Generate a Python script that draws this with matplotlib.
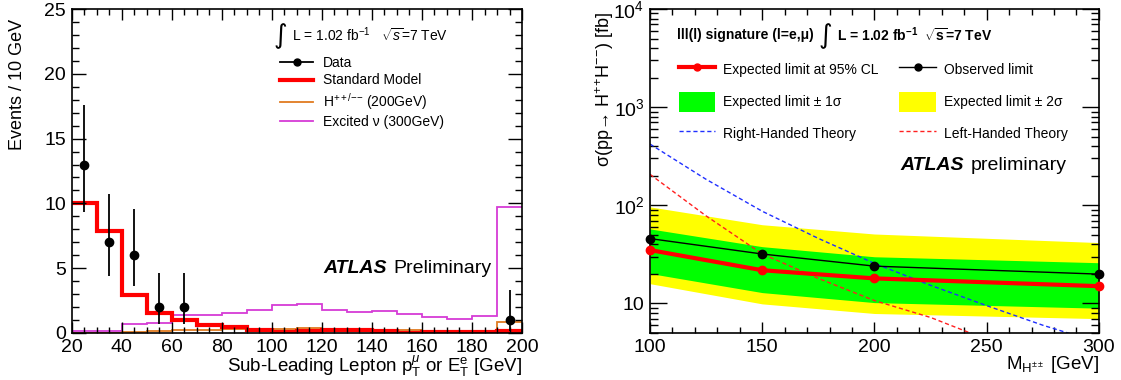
import numpy as np
import matplotlib
matplotlib.use("Agg")
import matplotlib.pyplot as plt
from matplotlib.lines import Line2D
from matplotlib.patches import Patch
from matplotlib.ticker import MultipleLocator, LogLocator, FuncFormatter, NullFormatter

plt.rcParams['font.family'] = ['Liberation Sans', 'DejaVu Sans']
plt.rcParams['mathtext.fontset'] = 'custom'
plt.rcParams['mathtext.rm'] = 'Liberation Sans'
plt.rcParams['mathtext.it'] = 'Liberation Sans:italic'
plt.rcParams['mathtext.bf'] = 'Liberation Sans:bold'

# left panel: sub-leading lepton pT, 10 GeV bins
bin_edges = np.arange(20, 201, 10)
sm = [10.05, 7.85, 2.93, 1.58, 0.98, 0.65, 0.47, 0.26, 0.08,
      0.13, 0.2, 0.2, 0.13, 0.03, 0.08, 0.1, 0.05, 0.13]
hpp_200 = [0.03, 0.03, 0.08, 0.13, 0.2, 0.26, 0.3, 0.33, 0.3,
           0.36, 0.33, 0.28, 0.23, 0.2, 0.18, 0.15, 0.13, 0.85]
exc_nu_300 = [0.13, 0.13, 0.67, 0.78, 1.4, 1.37, 1.58, 1.81, 2.15,
              2.25, 1.74, 1.6, 1.68, 1.5, 1.27, 1.06, 1.3, 9.7]
data_x = [25, 35, 45, 55, 65, 195]
data_y = [13, 7, 6, 2, 2, 1]
data_lo = [9.35, 4.38, 3.6, 0.72, 0.72, 0.13]
data_hi = [17.58, 10.7, 9.53, 4.63, 4.63, 3.3]

# right panel: cross-section limits
mass = [100, 150, 200, 300]
expected = [35, 21.8, 18, 15]
observed = [45.8, 31.9, 24, 19.9]
band1_lo = [20.2, 12.9, 10.2, 8.95]
band1_hi = [57.5, 37.9, 29.9, 26]
band2_lo = [15.9, 9.9, 7.9, 7.0]
band2_hi = [96.4, 63.4, 51, 41.7]
theory_mass = [100, 125, 150, 175, 200, 225, 250, 275, 300]
rh_theory = [421, 184, 87, 46, 25.6, 15.3, 9.5, 6.0, 4.0]
lh_theory = [207, 78, 32, 18, 10.7, 7.2, 4.3, 2.8, 2.0]

fig = plt.figure(figsize=(11.21, 3.8), dpi=100)
ax1 = fig.add_axes([0.0638, 0.1237, 0.4019, 0.8526])
ax2 = fig.add_axes([0.5798, 0.1237, 0.4005, 0.8526])

for ax in (ax1, ax2):
    for s in ax.spines.values():
        s.set_linewidth(1.2)
    ax.tick_params(which='both', direction='in', top=True, right=True,
                   labelsize=14, width=1, pad=4)

# ---- left ----
ax1.stairs(exc_nu_300, bin_edges, baseline=None, color='#d63cd6', lw=1.3)
ax1.stairs(hpp_200, bin_edges, baseline=None, color='#e07b20', lw=1.3)
ax1.stairs(sm, bin_edges, baseline=None, color='#ff0000', lw=3)
yerr = [np.array(data_y) - np.array(data_lo), np.array(data_hi) - np.array(data_y)]
ax1.errorbar(data_x, data_y, yerr=yerr, fmt='o', color='black', ms=6,
             elinewidth=1.3, capsize=0, zorder=5, clip_on=False)

ax1.set_xlim(20, 200)
ax1.set_ylim(0, 25)
ax1.xaxis.set_major_locator(MultipleLocator(20))
ax1.xaxis.set_minor_locator(MultipleLocator(5))
ax1.yaxis.set_major_locator(MultipleLocator(5))
ax1.yaxis.set_minor_locator(MultipleLocator(1))
ax1.tick_params(axis='x', which='major', length=8)
ax1.tick_params(axis='x', which='minor', length=4)
ax1.tick_params(axis='y', which='major', length=10)
ax1.tick_params(axis='y', which='minor', length=5)

ax1.set_xlabel(r'Sub-Leading Lepton p$_\mathrm{T}^{\mu}$ or E$_\mathrm{T}^\mathrm{e}$ [GeV]',
               fontsize=13.5, loc='right')
ax1.xaxis.set_label_coords(1.0, -0.065)
ax1.set_ylabel('Events / 10 GeV', fontsize=13, loc='top')
ax1.yaxis.set_label_coords(-0.101, 0.97)

ax1.text(0.463, 0.915, '∫', transform=ax1.transAxes, fontsize=19,
         family='DejaVu Sans', ha='center', va='center')
ax1.text(0.4895, 0.92, r'L = 1.02 fb$^{-1}$   $\sqrt{s}$=7 TeV', transform=ax1.transAxes,
         fontsize=10, ha='left', va='center')

handles1 = [Line2D([], [], color='black', marker='o', ms=5, lw=1.3),
            Line2D([], [], color='#ff0000', lw=3),
            Line2D([], [], color='#e07b20', lw=1.3),
            Line2D([], [], color='#d63cd6', lw=1.3)]
labels1 = ['Data', 'Standard Model', r'H$^{++/{-}{-}}$ (200GeV)', 'Excited ν (300GeV)']
ax1.legend(handles1, labels1, loc='upper left', bbox_to_anchor=(0.463, 0.855),
           frameon=False, fontsize=10, borderpad=0, borderaxespad=0,
           handlelength=2.4, handletextpad=0.7, labelspacing=0.25, numpoints=1)

t1 = ax1.text(0.558, 0.2, 'ATLAS', transform=ax1.transAxes, fontsize=14,
              fontweight='bold', fontstyle='italic', ha='left', va='center')
ax1.annotate('Preliminary', xy=(1, 0.5), xycoords=t1, xytext=(5, 0),
             textcoords='offset points', fontsize=14, ha='left', va='center')

# ---- right ----
ax2.fill_between(mass, band2_lo, band2_hi, color='#ffff00', lw=0)
ax2.fill_between(mass, band1_lo, band1_hi, color='#00ff00', lw=0)
ax2.plot(theory_mass, rh_theory, color='#2030ff', lw=1, ls=(0, (3, 2)))
ax2.plot(theory_mass, lh_theory, color='#ff2020', lw=1, ls=(0, (3, 2)))
ax2.plot(mass, observed, color='black', lw=1, marker='o', ms=6, clip_on=False, zorder=5)
ax2.plot(mass, expected, color='#ff0000', lw=3, marker='o', ms=6, clip_on=False, zorder=6)

ax2.set_yscale('log')
ax2.set_xlim(100, 300)
ax2.set_ylim(5, 1e4)
ax2.xaxis.set_major_locator(MultipleLocator(50))
ax2.xaxis.set_minor_locator(MultipleLocator(10))
ax2.yaxis.set_major_locator(LogLocator(base=10, numticks=10))
ax2.yaxis.set_minor_locator(LogLocator(base=10, subs=np.arange(2, 10), numticks=20))
ax2.yaxis.set_minor_formatter(NullFormatter())
ax2.yaxis.set_major_formatter(FuncFormatter(
    lambda v, p: '10' if abs(v - 10) < 1e-6 else r'$10^{%d}$' % round(np.log10(v))))
ax2.tick_params(axis='x', which='major', length=8)
ax2.tick_params(axis='x', which='minor', length=4)
ax2.tick_params(axis='y', which='major', length=12)
ax2.tick_params(axis='y', which='minor', length=6)

ax2.set_xlabel(r'M$_{\mathrm{H}^{\pm\pm}}$ [GeV]', fontsize=13.5, loc='right')
ax2.xaxis.set_label_coords(1.0, -0.065)
ax2.set_ylabel(r'σ(pp→ H$^{+}$$^{+}$H$^{-}$$^{-}$) [fb]', fontsize=13, loc='top')
ax2.yaxis.set_label_coords(-0.076, 0.99)

ax2.text(0.06, 0.92, 'lll(l) signature (l=e,μ)', transform=ax2.transAxes,
         fontsize=10, fontweight='bold', ha='left', va='center')
ax2.text(0.39, 0.915, '∫', transform=ax2.transAxes, fontsize=19,
         family='DejaVu Sans', ha='center', va='center')
ax2.text(0.4165, 0.92, r'L = 1.02 fb$^{\mathbf{-1}}$  $\sqrt{\mathbf{s}}$=7 TeV',
         transform=ax2.transAxes, fontsize=10, fontweight='bold', ha='left', va='center')

handles2 = [Line2D([], [], color='#ff0000', lw=3, marker='o', ms=5),
            Patch(color='#00ff00', lw=0),
            Line2D([], [], color='#2030ff', lw=1, ls=(0, (3, 2))),
            Line2D([], [], color='black', lw=1, marker='o', ms=5),
            Patch(color='#ffff00', lw=0),
            Line2D([], [], color='#ff2020', lw=1, ls=(0, (3, 2)))]
labels2 = ['Expected limit at 95% CL', 'Expected limit ± 1σ', 'Right-Handed Theory',
           'Observed limit', 'Expected limit ± 2σ', 'Left-Handed Theory']
ax2.legend(handles2, labels2, loc='upper left', bbox_to_anchor=(0.0646, 0.8426), ncol=2,
           frameon=False, fontsize=10, borderpad=0, borderaxespad=0,
           handlelength=2.6, handleheight=1.84, handletextpad=0.58,
           labelspacing=0.86, columnspacing=1.5, numpoints=1)

t2 = ax2.text(0.557, 0.5185, 'ATLAS', transform=ax2.transAxes, fontsize=14,
              fontweight='bold', fontstyle='italic', ha='left', va='center')
ax2.annotate('preliminary', xy=(1, 0.5), xycoords=t2, xytext=(5, 0),
             textcoords='offset points', fontsize=14, ha='left', va='center')

fig.savefig('out.png', dpi=100)
